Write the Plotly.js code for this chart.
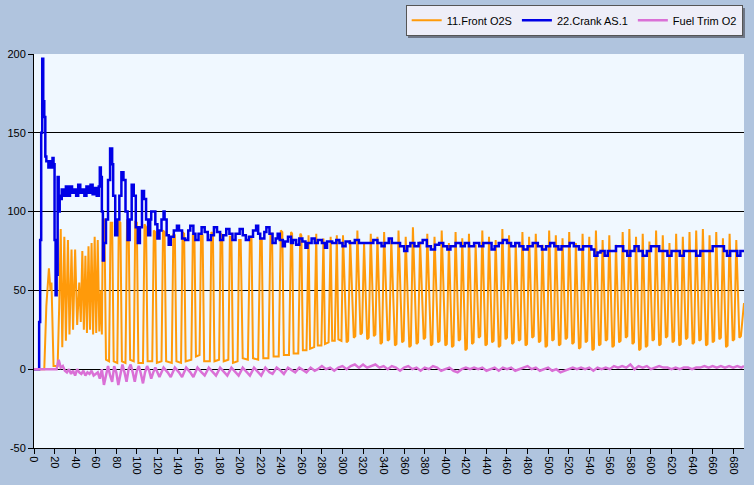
<!DOCTYPE html>
<html>
<head>
<meta charset="utf-8">
<script src="https://cdn.plot.ly/plotly-3.0.1.min.js"></script>
<style>html,body{margin:0;padding:0;background:#B0C4DE;}#chart{width:754px;height:485px;}</style>
</head>
<body>
<div id="chart"></div>
<script>
// Series names
const seriesNames = ["11.Front O2S", "22.Crank AS.1", "Fuel Trim O2"];

// 11.Front O2S turning points [sample, value]
const frontO2S = [
[0,0],[10,0],[12,40],[14.5,64],[16,50],[17,55],[19,2],[23,2],[24.5,40],[26,89],[27.5,14],[29.5,84],[31,18],[33,82],[34.5,22],[36.5,76],[38,25],[40,76],[42,28],[44,55],[45.5,30],[47,75],[48.5,25],[50,72],[51.5,23],[53,78],[54.5,25],[56,80],[57.5,22],[59,84],[60.5,23],[62,82],[63.5,24],[65,50],[66,22],
[67,95],[68.5,95],[70,6],[73,5],[74.5,93],[76,93],[77.5,5],[81,4],[82.5,94],[84,93],[85.5,5],[89,4],[90.5,95],[92,94],[93.5,6],[97,5],[98.5,94],[100,93],[101.5,4],[106,4],[107.5,92],[109,90],[110.5,5],[115,5],[116.5,88],[118,87],[119.5,4],[124,5],[125.5,88],[127,87],[128.5,5],[134,4],[135.5,86],[137,85],[138.5,5],[143,4],[144.5,87],[146,86],[147.5,5],[153,6],[154.5,86],[156,85],[157.5,8],[161,9],[162.5,86],[164,85],[165.5,5],[171,5],[172.5,87],[174,86],[175.5,5],[180,6],[181.5,86],[183,85],[184.5,5],[189,6],[190.5,84],[192,84],[193.5,4],[198,5],[199.5,82],[201,82],
[203,7],[208,6],[210,84],[211.5,84],[213,7],[218,6],[220,82],[221.5,82],[223,7],[228,7],[230,86],[231.5,86],[233,8],[238,8],[240,88],[241.5,87],[243,9],[248,9],[250,87],[251,86],[252.5,10],[257,10],[259,86],[260,85],[261.5,12],[265,12],[267,85],[268.5,13],[272.5,14],[274.5,86],[276,15],[279.5,15],[281.5,83],[283,16],[286.5,17],[288.5,84],[290,18],[292.5,18],[294.5,85],[296,19],[299,18],[300.5,85],
[304,17],[305.5,18],[307.5,82],[311,20],[312.5,21],[314.5,88],[317.5,22],[319,23],[321,80],[324,19],[325.5,20],[327.5,86],[330.5,21],[332,22],[334,84],[337,16],[338.5,17],[340.5,87],[344,18],[345.5,19],[347.5,82],[351,15],[352.5,16],[354.5,88],[358,17],[359.5,18],[361.5,84],[365,14],[366.5,15],[368.5,90],[372,16],[373.5,17],[375.5,81],[379,19],[380.5,20],[382.5,86],[386,15],[387.5,16],[389.5,84],[393,17],[394.5,18],[396.5,88],
[400,15],[401.5,16],[403.5,80],[406.5,14],[408,15],[410,87],[413,18],[414.5,19],[416.5,83],[419.5,12],[421,13],[423,86],[426,16],[427.5,17],[429.5,79],[432.5,20],[434,21],[436,88],[439,15],[440.5,16],[442.5,84],[445.5,17],[447,18],[449,82],[452,14],[453.5,15],[455.5,89],[458.5,19],[460,20],[462,85],[465,16],[466.5,17],[468.5,80],[471.5,18],[473,19],[475,87],[478,15],[479.5,16],[481.5,84],[484.5,20],[486,21],[488,86],[491,17],[492.5,18],[494.5,79],[497.5,14],[499,15],[501,88],
[504,18],[505.5,19],[507.5,85],[510.5,15],[512,16],[514,83],[517,19],[518.5,20],[520.5,87],[523.5,16],[525,17],[527,80],[530,13],[531.5,14],[533.5,86],[536.5,17],[538,18],[540,84],[543,12],[544.5,13],[546.5,88],[549.5,15],[551,16],[553,82],[556,18],[557.5,19],[559.5,85],[562.5,14],[564,15],[566,79],[569,17],[570.5,18],[572.5,87],[575.5,20],[577,21],[579,89],[582,16],[583.5,17],[585.5,84],[588.5,12],[590,13],[592,86],[595,14],[596.5,15],[598.5,81],
[601.5,18],[603,19],[605,88],[608,15],[609.5,16],[611.5,85],[614.5,20],[616,21],[618,80],[621,17],[622.5,18],[624.5,86],[627.5,15],[629,16],[631,84],[634,19],[635.5,20],[637.5,87],[640.5,16],[642,17],[644,88],[647,18],[648.5,19],[650.5,89],[653.5,15],[655,16],[657,85],[660,17],[661.5,18],[663.5,87],[666.5,19],[668,20],[670,83],[673,14],[674.5,15],[676.5,86],[679.5,18],[681,19],[683,82],[686,20],[687.5,21],[690.5,42]
];

// 22.Crank AS.1 step points [sample, value]
const crankAS1 = [
[0,0],[4,0],[5,30],[6,82],[7,150],[8,197],[9,170],[10,160],[11,135],[12,132],[14,128],[16,132],[17,128],[18,134],[19,130],[20,82],[21,47],[22,60],[23,122],[24,100],[25,110],[26,108],[27,114],[29,110],[31,116],[33,110],[35,116],[37,112],[39,114],[41,110],[43,117],[45,112],[47,114],[49,110],[51,116],[53,112],[55,117],[57,111],[59,115],[61,110],[63,116],[64,128],[65,122],[66,100],[67,69],[68,80],[70,95],[72,120],[74,140],[76,130],[77,110],[79,85],[81,95],[83,110],[85,125],[87,120],[89,100],[91,82],[93,95],[95,117],[97,110],[99,90],[101,80],[103,90],[105,113],[107,108],[109,95],[111,85],[113,95],[114,100],[116,100],[118,92],[120,83],[122,88],[124,95],[126,100],[127,95],[129,85],[131,79],[133,84],[136,88],[139,91],[141,88],[144,83],[147,82],[150,88],[152,91],[155,86],[157,82],[160,86],[163,90],[166,87],[169,82],[172,85],[175,90],[178,87],[181,82],[184,85],[187,89],[190,86],[193,82],[196,86],[200,89],[203,85],[206,82],[209,84],[213,88],[216,91],[218,86],[220,83],[224,87],[226,90],[229,86],[232,80],[235,83],[237,86],[239,82],[242,78],[244,81],[247,84],[250,80],[252,82],[255,79],[258,83],[261,81],[264,77],[266,80],[270,83],[273,80],[276,82],[280,80],[283,77],[285,81],[290,80],[294,82],[297,80],[300,78],[303,81],[307,80],[312,82],[316,80],[320,80],[325,80],
[330,82],[334,80],[338,78],[341,80],[345,83],[348,80],[352,80],[356,78],[360,75],[363,78],[366,80],[370,78],[374,80],[378,82],[382,78],[386,76],[390,79],[394,80],[398,78],[402,76],[405,78],[410,80],[415,78],[419,80],[423,78],[428,80],[433,78],[437,80],[441,80],[445,76],[448,78],[452,80],[456,82],[460,80],[464,78],[468,80],[472,78],[476,76],[480,78],[485,80],[490,78],[494,76],[498,78],[502,80],[506,78],[510,76],[513,78],[517,78],[521,80],[525,78],[530,76],[534,78],[538,78],[542,76],[545,72],[548,74],[551,75],[555,72],[558,75],[562,75],[566,78],[570,78],[573,75],[577,72],[580,75],[584,78],[588,75],[592,72],[596,75],[600,78],[604,78],[608,75],[612,75],[616,72],[620,75],[624,75],[628,72],[632,75],[636,75],[640,75],[644,72],[648,75],[652,75],[656,75],[660,78],[664,78],[668,78],[671,75],[674,72],[677,75],[681,75],[684,72],[687,75],[690.5,75]
];

// Fuel Trim O2 points [sample, value]
const fuelTrimO2 = [
[0,0],[22,0],[24,6],[26,1],[28,2],[30,-1],[32,-2],[34,0],[36,-3],[38,-1],[40,-4],[42,0],[44,-2],[46,-3],[48,-1],[50,-4],[52,-2],[54,-3],[56,-1],[58,-4],[60,-3],[62,-2],[64,-6],[66,0],[68,-10],[70,-4],[72,2],[74,-4],[76,-8],[78,2],[80,-2],[82,-10],[84,-3],[86,3],[88,-2],[90,-8],[92,0],[94,3],[96,-2],[98,-8],[100,-1],[102,2],[104,-3],[106,-9],[108,-2],[110,2],[112,-1],[114,-6],[116,-2],[118,1],[120,-2],[122,-5],[126,1],[130,-2],[133,-5],[137,1],[141,-2],[144,-5],[148,1],[152,-2],[155,-5],[159,1],[163,-2],[166,-4],[170,1],[174,-2],[177,-4],[181,1],[185,-2],[188,-4],[192,1],[196,-2],[199,-4],[203,1],[207,-2],[210,-4],[214,1],[218,-2],[221,-4],[225,1],[229,-2],[232,-3],[236,1],[240,-1],[243,-3],[247,1],[251,-1],[254,-2],[258,1],[262,-1],[265,-2],[269,1],[273,-1],[276,0],[280,2],[284,0],[288,1],[292,-1],[296,1],[300,2],[304,0],[308,2],[312,3],[316,1],[320,3],[324,1],[328,2],[332,3],[336,1],[340,2],[344,0],[348,2],[352,1],[356,-1],[360,1],[364,2],[368,0],[372,1],[376,-1],[380,1],[384,0],[388,2],[392,1],[396,-1],[400,0],[404,1],[408,-1],[412,-2],[416,0],[420,1],[424,0],[428,1],[432,0],[436,1],[440,-1],[444,0],[448,1],[452,-1],[456,1],[460,0],[464,1],[468,-1],[472,0],[476,1],[480,2],[484,0],[488,1],[492,-1],[496,0],[500,1],[504,-1],[508,0],[512,-2],[516,-1],[520,0],[524,1],[528,0],[532,1],[536,0],[540,1],[544,-1],[548,1],[552,0],[556,1],[560,0],[564,2],[568,1],[572,2],[576,1],[580,3],[584,0],[588,2],[592,1],[596,2],[600,0],[604,1],[608,2],[612,1],[616,1],[620,0],[624,1],[628,0],[632,1],[636,1],[640,0],[644,1],[648,1],[652,2],[656,1],[660,2],[664,1],[668,2],[672,1],[676,2],[680,1],[684,2],[688,1],[690.5,2]
];

// Axis ticks
const xTicks = [0,20,40,60,80,100,120,140,160,180,200,220,240,260,280,300,320,340,360,380,400,420,440,460,480,500,520,540,560,580,600,620,640,660,680];
const yTicks = [-50,0,50,100,150,200];

const xs = a => a.map(p => p[0]);
const ys = a => a.map(p => p[1]);

const traces = [
  {x: xs(frontO2S), y: ys(frontO2S), name: seriesNames[0], mode: 'lines', line: {color: '#FF9A0A', width: 2}},
  {x: xs(crankAS1), y: ys(crankAS1), name: seriesNames[1], mode: 'lines', line: {color: '#0000E6', width: 2.5, shape: 'hv'}},
  {x: xs(fuelTrimO2), y: ys(fuelTrimO2), name: seriesNames[2], mode: 'lines', line: {color: '#DA70D6', width: 2.5}}
];

const layout = {
  width: 754, height: 485,
  paper_bgcolor: '#B0C4DE',
  plot_bgcolor: '#F0F8FF',
  margin: {l: 34, r: 10, t: 54, b: 37, pad: 0, autoexpand: false},
  font: {family: 'Liberation Sans, Arial, sans-serif', size: 11, color: '#000'},
  showlegend: true,
  legend: {
    orientation: 'h', xref: 'container', yref: 'container',
    x: 0.985, xanchor: 'right', y: 0.99, yanchor: 'top',
    bgcolor: '#EEEEF8', bordercolor: '#555', borderwidth: 1,
    font: {size: 11, color: '#000'}, traceorder: 'normal'
  },
  xaxis: {
    range: [0, 690.5], tickvals: xTicks, ticktext: xTicks.map(String), tickangle: 90,
    showgrid: false, zeroline: false, showline: true, linecolor: '#000', linewidth: 1,
    ticks: 'outside', ticklen: 5, tickcolor: '#000', fixedrange: true, automargin: false
  },
  yaxis: {
    range: [-50, 200], tickvals: yTicks, ticktext: yTicks.map(String),
    showgrid: true, gridcolor: '#000', gridwidth: 1, zeroline: false,
    showline: true, linecolor: '#000', linewidth: 1,
    ticks: 'outside', ticklen: 5, tickcolor: '#000', fixedrange: true, automargin: false
  },
  shapes: [
    {type: 'rect', xref: 'paper', yref: 'paper', x0: 0.5268, x1: 1.0014, y0: 1.0406, y1: 1.1168,
     fillcolor: '#6E7686', line: {width: 0}, layer: 'above'}
  ]
};

Plotly.newPlot('chart', traces, layout, {displayModeBar: false, staticPlot: true});
</script>
</body>
</html>
